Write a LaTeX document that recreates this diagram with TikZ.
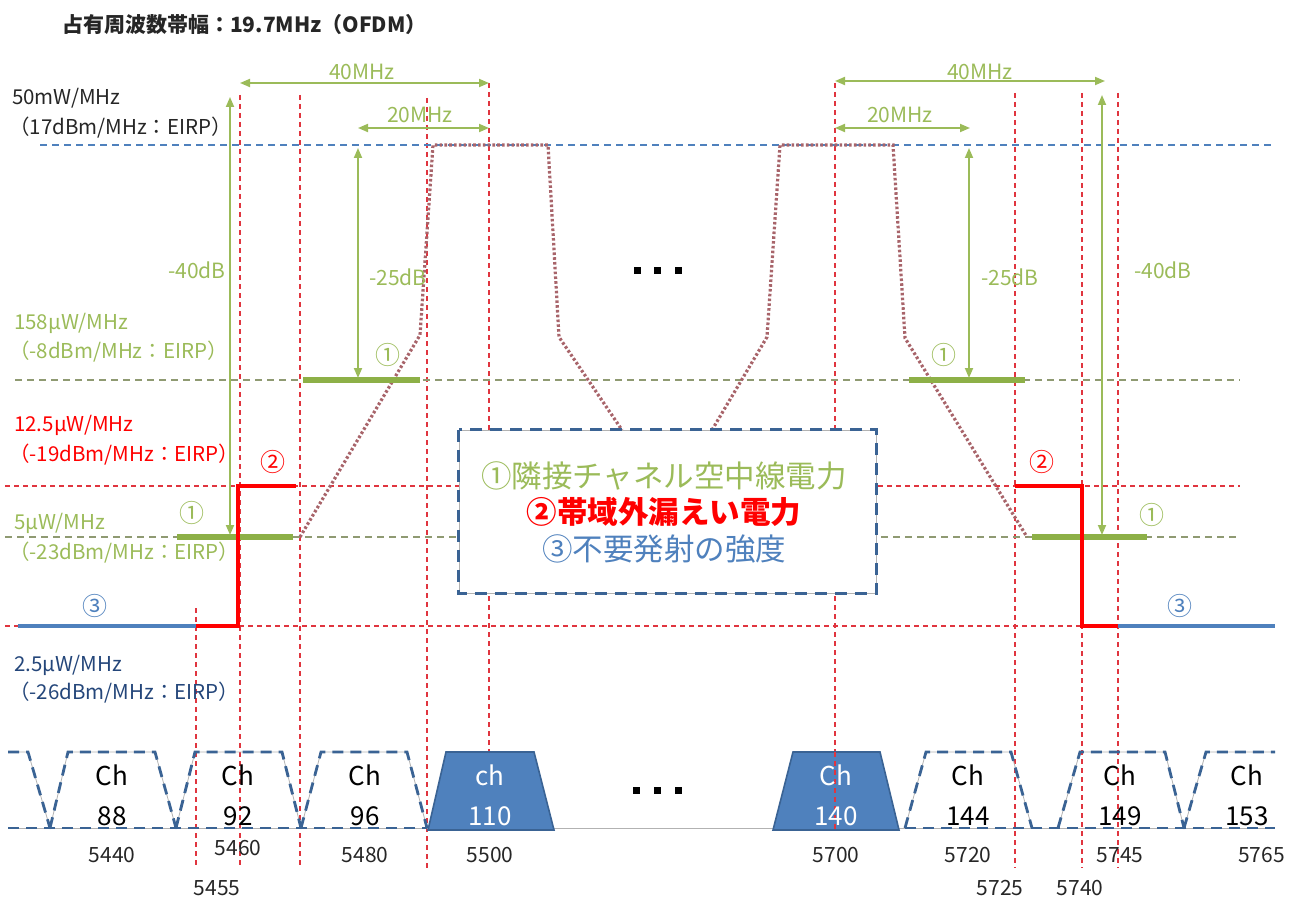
\documentclass[tikz,border=0pt]{standalone}
\usepackage{fontspec}
\setmainfont{Noto Sans CJK JP}
\usetikzlibrary{arrows.meta}
\definecolor{gr}{HTML}{9BBB59}
\definecolor{barc}{HTML}{8DB047}
\definecolor{rd}{HTML}{FF0000}
\definecolor{rdd}{HTML}{E0353F}
\definecolor{bl}{HTML}{4F81BD}
\definecolor{blk}{HTML}{3A6394}
\definecolor{olv}{HTML}{8F9A72}
\definecolor{dotc}{HTML}{A8646A}
\definecolor{nav}{HTML}{24467A}
\definecolor{txt}{HTML}{262626}
\tikzset{
  vred/.style={draw=rdd, line width=1.3pt, dash pattern=on 5pt off 4pt},
  hblue/.style={draw=bl, line width=1.7pt, dash pattern=on 7pt off 5pt},
  holv/.style={draw=olv, line width=1.7pt, dash pattern=on 7pt off 5pt},
  barln/.style={draw=barc, line width=6.5pt},
  redstep/.style={draw=rd, line width=4pt},
  blueln/.style={draw=bl, line width=4pt},
  garrow/.style={draw=gr, line width=1.8pt, {Triangle[length=10pt,width=8pt]}-{Triangle[length=10pt,width=8pt]}},
  ofdm/.style={draw=dotc, line width=3.2pt, dash pattern=on 2.6pt off 2.2pt},
  maskthin/.style={draw=gray!60, line width=0.8pt},
  mask/.style={draw=blk, line width=2.8pt, dash pattern=on 11pt off 7pt},
  chfill/.style={fill=bl, draw=blk, line width=1.6pt},
  lab/.style={font=\fontsize{20.5}{22}\selectfont, anchor=west, inner sep=0pt},
  freq/.style={font=\fontsize{21}{22}\selectfont, text=txt, inner sep=0pt},
  chlab/.style={font=\fontsize{26}{40}\selectfont, align=center, inner sep=0pt},
  circ/.style={font=\fontsize{25}{26}\selectfont, inner sep=0pt},
  dbl/.style={font=\fontsize{21}{22}\selectfont, text=gr, inner sep=0pt},
  dotsq/.style={fill=black, minimum size=7pt, inner sep=0pt},
}
\begin{document}
\begin{tikzpicture}[x=1pt,y=-1pt]
\useasboundingbox (0,0) rectangle (1290,904);
% vertical red dashed
\draw[vred] (196,608) -- (196,868);
\draw[vred] (240,95) -- (240,868);
\draw[vred] (300,95) -- (300,868);
\draw[vred] (427,98) -- (427,868);
\draw[vred] (489,83) -- (489,752);
\draw[vred] (835,83) -- (835,830);
\draw[vred] (1015,93) -- (1015,868);
\draw[vred] (1082,93) -- (1082,868);
\draw[vred] (1118,93) -- (1118,868);
% horizontal dashed
\draw[hblue] (40,145) -- (1275,145);
\draw[holv] (15,380) -- (1240,380);
\draw[vred] (5,486) -- (1240,486);
\draw[holv] (5,537) -- (1240,537);
\draw[vred] (5,626) -- (1240,626);
% OFDM curves
\draw[ofdm] (300,537) -- (420,335) -- (433,145) -- (548,145) -- (559,337) -- (622,430);
\draw[ofdm] (712,430) -- (767,337) -- (780,145) -- (893,145) -- (905,338) -- (1027,537);
% legend box
\node[draw=gray!60, fill=white, line width=0.8pt, minimum width=417pt, minimum height=163pt, inner sep=0pt] (box) at (667.5,511.5) {};
\draw[draw=blk, line width=2.6pt, dash pattern=on 12pt off 8pt] (box.north west) rectangle (box.south east);
\node[font=\fontsize{30.5}{31}\selectfont, text=gr, inner sep=0pt] (l1) at (664,476) {①隣接チャネル空中線電力};
\node[font=\fontsize{30.5}{31}\selectfont\bfseries, text=rd, inner sep=0pt] (l2) at (664,512) {②帯域外漏えい電力};
\node[font=\fontsize{30.5}{31}\selectfont, text=bl, inner sep=0pt] (l3) at (664,549) {③不要発射の強度};
% green bars
\draw[barln] (303,380) -- (420,380);
\draw[barln] (177,537) -- (293,537);
\draw[barln] (909,380) -- (1025,380);
\draw[barln] (1032,537) -- (1147,537);
% blue lines
\draw[blueln] (18,626) -- (196,626);
\draw[blueln] (1118,626) -- (1275,626);
% red steps
\draw[redstep, line join=miter] (196,626) -- (238,626) -- (238,486) -- (296,486);
\draw[redstep, line join=miter] (1015,486) -- (1082,486) -- (1082,626) -- (1118,626);
% arrows
\coordinate (a40la) at (240,83); \coordinate (a40lb) at (489,83);
\coordinate (a20la) at (358,128); \coordinate (a20lb) at (489,128);
\coordinate (a40ra) at (835,81); \coordinate (a40rb) at (1105,81);
\coordinate (a20ra) at (835,128); \coordinate (a20rb) at (970,128);
\coordinate (d40la) at (230,97); \coordinate (d40lb) at (230,535);
\coordinate (d25la) at (358,148); \coordinate (d25lb) at (358,378);
\coordinate (d25ra) at (969,148); \coordinate (d25rb) at (969,378);
\coordinate (d40ra) at (1102,95); \coordinate (d40rb) at (1102,535);
\draw[garrow] (a40la) -- (a40lb);
\draw[garrow] (a20la) -- (a20lb);
\draw[garrow] (a40ra) -- (a40rb);
\draw[garrow] (a20ra) -- (a20rb);
\draw[garrow] (d40la) -- (d40lb);
\draw[garrow] (d25la) -- (d25lb);
\draw[garrow] (d25ra) -- (d25rb);
\draw[garrow] (d40ra) -- (d40rb);
\node[dbl] (t40l) at (362,72) {40MHz};
\node[dbl] (t20l) at (420,115) {20MHz};
\node[dbl] (t40r) at (980,72) {40MHz};
\node[dbl] (t20r) at (900,115) {20MHz};
\node[dbl] (td40l) at (197,270) {-40dB};
\node[dbl] (td25l) at (398,277) {-25dB};
\node[dbl] (td25r) at (1010,277) {-25dB};
\node[dbl] (td40r) at (1163,270) {-40dB};
% circled numbers
\node[circ, text=gr] (c1a) at (388,355) {①};
\node[circ, text=gr] (c1b) at (192,513) {①};
\node[circ, text=gr] (c1c) at (944,355) {①};
\node[circ, text=gr] (c1d) at (1152,515) {①};
\node[circ, text=rd] (c2a) at (273,462) {②};
\node[circ, text=rd] (c2b) at (1042,462) {②};
\node[circ, text=bl] (c3a) at (95,606) {③};
\node[circ, text=bl] (c3b) at (1180,606) {③};
% title
\node[font=\fontsize{21}{22}\selectfont\bfseries, text=txt, anchor=west, inner sep=0pt] (title) at (62,25) {占有周波数帯幅：19.7MHz（OFDM）};
% left labels
\node[lab, text=txt] (p1) at (12,98) {50mW/MHz};
\node[lab, text=txt] (p1b) at (9,128) {（17dBm/MHz：EIRP）};
\node[lab, text=gr] (p2) at (14,323) {158μW/MHz};
\node[lab, text=gr] (p2b) at (9,352) {（-8dBm/MHz：EIRP）};
\node[lab, text=rd] (p3) at (14,425) {12.5μW/MHz};
\node[lab, text=rd] (p3b) at (9,455) {（-19dBm/MHz：EIRP）};
\node[lab, text=gr] (p4) at (14,523) {5μW/MHz};
\node[lab, text=gr] (p4b) at (9,553) {（-23dBm/MHz：EIRP）};
\node[lab, text=nav] (p5) at (14,665) {2.5μW/MHz};
\node[lab, text=nav] (p5b) at (9,693) {（-26dBm/MHz：EIRP）};
% dots
\node[dotsq] (dt1) at (637,270) {};
\node[dotsq] (dt2) at (657,270) {};
\node[dotsq] (dt3) at (678,270) {};
\node[dotsq] (db1) at (636,790) {};
\node[dotsq] (db2) at (657,790) {};
\node[dotsq] (db3) at (678,790) {};
% channel masks
\draw[maskthin] (8,828) -- (1275,828);
\draw[maskthin] (8,752) -- (28,752) -- (50,828) -- (68,752) -- (155,752) -- (176,828) -- (195,752) -- (282,752) -- (301,828) -- (321,752) -- (407,752) -- (427,828);
\draw[maskthin] (905,828) -- (926,752) -- (1011,752) -- (1032,828);
\draw[maskthin] (1058,828) -- (1080,752) -- (1165,752) -- (1184,828) -- (1206,752) -- (1275,752);
\draw[mask] (8,752) -- (28,752) -- (50,828);
\draw[mask] (50,828) -- (68,752) -- (155,752) -- (176,828);
\draw[mask] (176,828) -- (195,752) -- (282,752) -- (301,828);
\draw[mask] (301,828) -- (321,752) -- (407,752) -- (427,828);
\draw[mask] (905,828) -- (926,752) -- (1011,752) -- (1032,828);
\draw[mask] (1058,828) -- (1080,752) -- (1165,752) -- (1184,828);
\draw[mask] (1184,828) -- (1206,752) -- (1275,752);
\draw[mask] (8,828) -- (427,828);
\draw[mask] (905,828) -- (1275,828);
\draw[chfill] (428,830) -- (446,752) -- (534,752) -- (554,830) -- cycle;
\draw[chfill] (773,830) -- (793,752) -- (880,752) -- (899,830) -- cycle;
\draw[vred] (835,752) -- (835,830);
% channel labels
\node[chlab, text=black] (ch88) at (112,795) {Ch\\88};
\node[chlab, text=black] (ch92) at (238,795) {Ch\\92};
\node[chlab, text=black] (ch96) at (365,795) {Ch\\96};
\node[chlab, text=white] (ch110) at (490,795) {ch\\110};
\node[chlab, text=white] (ch140) at (836,795) {Ch\\140};
\node[chlab, text=black] (ch144) at (968,795) {Ch\\144};
\node[chlab, text=black] (ch149) at (1120,795) {Ch\\149};
\node[chlab, text=black] (ch153) at (1247,795) {Ch\\153};
% frequencies
\node[freq] (f5440) at (112,855) {5440};
\node[freq] (f5460) at (238,848) {5460};
\node[freq] (f5480) at (365,855) {5480};
\node[freq] (f5500) at (490,855) {5500};
\node[freq] (f5700) at (836,855) {5700};
\node[freq] (f5720) at (968,855) {5720};
\node[freq] (f5745) at (1120,855) {5745};
\node[freq, anchor=west] (f5765) at (1238,855) {5765};
\node[freq] (f5455) at (217,888) {5455};
\node[freq] (f5725) at (1000,888) {5725};
\node[freq] (f5740) at (1080,888) {5740};
\end{tikzpicture}
\end{document}
